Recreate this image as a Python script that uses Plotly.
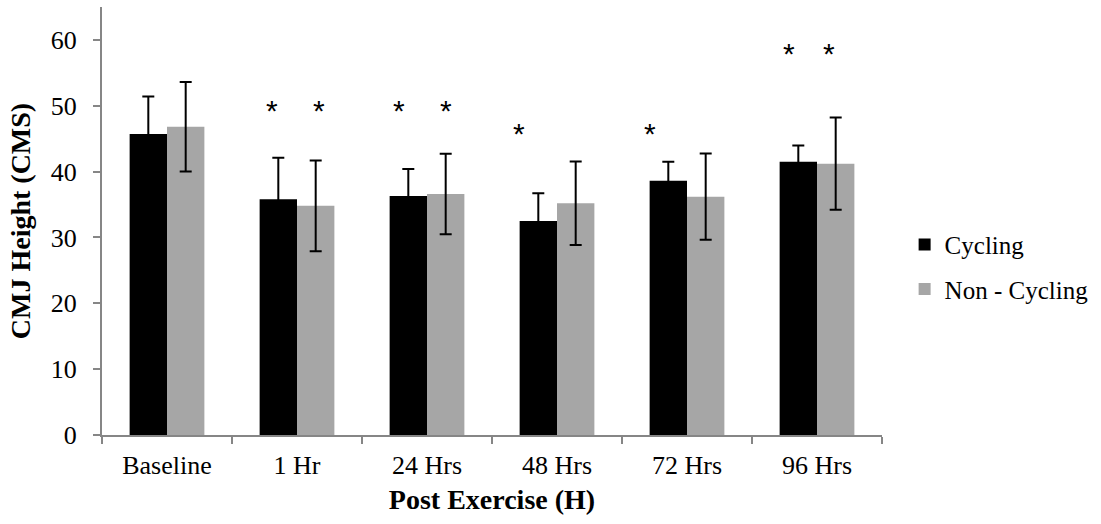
import plotly.graph_objects as go

categories = ["Baseline", "1 Hr", "24 Hrs", "48 Hrs", "72 Hrs", "96 Hrs"]
cycling = [45.7, 35.8, 36.3, 32.5, 38.6, 41.5]
cycling_err = [5.7, 6.3, 4.1, 4.2, 2.9, 2.45]
non_cycling = [46.8, 34.8, 36.6, 35.2, 36.2, 41.2]
non_cycling_err = [6.8, 6.9, 6.1, 6.35, 6.55, 7.0]

# significance markers: (category, y value)
star_cats = ["1 Hr", "1 Hr", "24 Hrs", "24 Hrs", "48 Hrs", "72 Hrs", "96 Hrs", "96 Hrs"]
star_y = [49.9, 49.9, 49.9, 49.9, 46.4, 46.4, 58.5, 58.5]
star_xshift = [-25, 22, -28, 19, -38, -37, -28, 12]

BLACK = "#000000"
GREY = "#A6A6A6"
AXIS = "#868686"
SERIF = "Liberation Serif"

fig = go.Figure()
fig.add_trace(go.Bar(
    x=categories, y=cycling, name="Cycling",
    marker=dict(color=BLACK, line=dict(width=0)),
    error_y=dict(type="data", array=cycling_err, color=BLACK, thickness=2, width=6),
    legendgroup="a",
))
fig.add_trace(go.Bar(
    x=categories, y=non_cycling, name="Non - Cycling",
    marker=dict(color=GREY, line=dict(width=0)),
    error_y=dict(type="data", array=non_cycling_err, color=BLACK, thickness=2, width=6),
    legendgroup="b",
))

for c, yv, dx in zip(star_cats, star_y, star_xshift):
    fig.add_annotation(x=c, y=yv, xref="x", yref="y", text="*", showarrow=False,
                       xshift=dx, yshift=-4, yanchor="middle",
                       font=dict(family="Liberation Sans", size=30, color=BLACK))

fig.update_layout(
    width=1101, height=524,
    margin=dict(l=102, r=219, t=7, b=89, autoexpand=False),
    paper_bgcolor="white", plot_bgcolor="white",
    barmode="group", bargap=0.425, bargroupgap=0,
    font=dict(family=SERIF, size=26, color=BLACK),
    showlegend=True,
    legend=dict(x=1.029, y=0.393, xanchor="left", yanchor="middle",
                traceorder="grouped", tracegroupgap=9,
                font=dict(family=SERIF, size=25, color=BLACK),
                bgcolor="rgba(0,0,0,0)"),
)
fig.update_xaxes(
    showline=True, linecolor=AXIS, linewidth=2,
    ticks="outside", tickson="boundaries", ticklen=7, tickcolor=AXIS, tickwidth=2,
    ticklabelstandoff=6,
    showgrid=False, zeroline=False,
    tickfont=dict(family=SERIF, size=26, color=BLACK),
    title=dict(text="<b>Post Exercise (H)</b>", font=dict(family=SERIF, size=28, color=BLACK), standoff=10),
)
fig.update_yaxes(
    range=[0, 65], tick0=0, dtick=10,
    showline=True, linecolor=AXIS, linewidth=2,
    ticks="outside", ticklen=7, tickcolor=AXIS, tickwidth=2,
    ticklabelstandoff=11,
    showgrid=False, zeroline=False,
    tickfont=dict(family=SERIF, size=26, color=BLACK),
    title=dict(text="<b>CMJ Height (CMS)</b>", font=dict(family=SERIF, size=28, color=BLACK), standoff=12),
)

fig.write_html("out.html", config={"displayModeBar": False},
               post_script="document.body.style.margin='0px';")
